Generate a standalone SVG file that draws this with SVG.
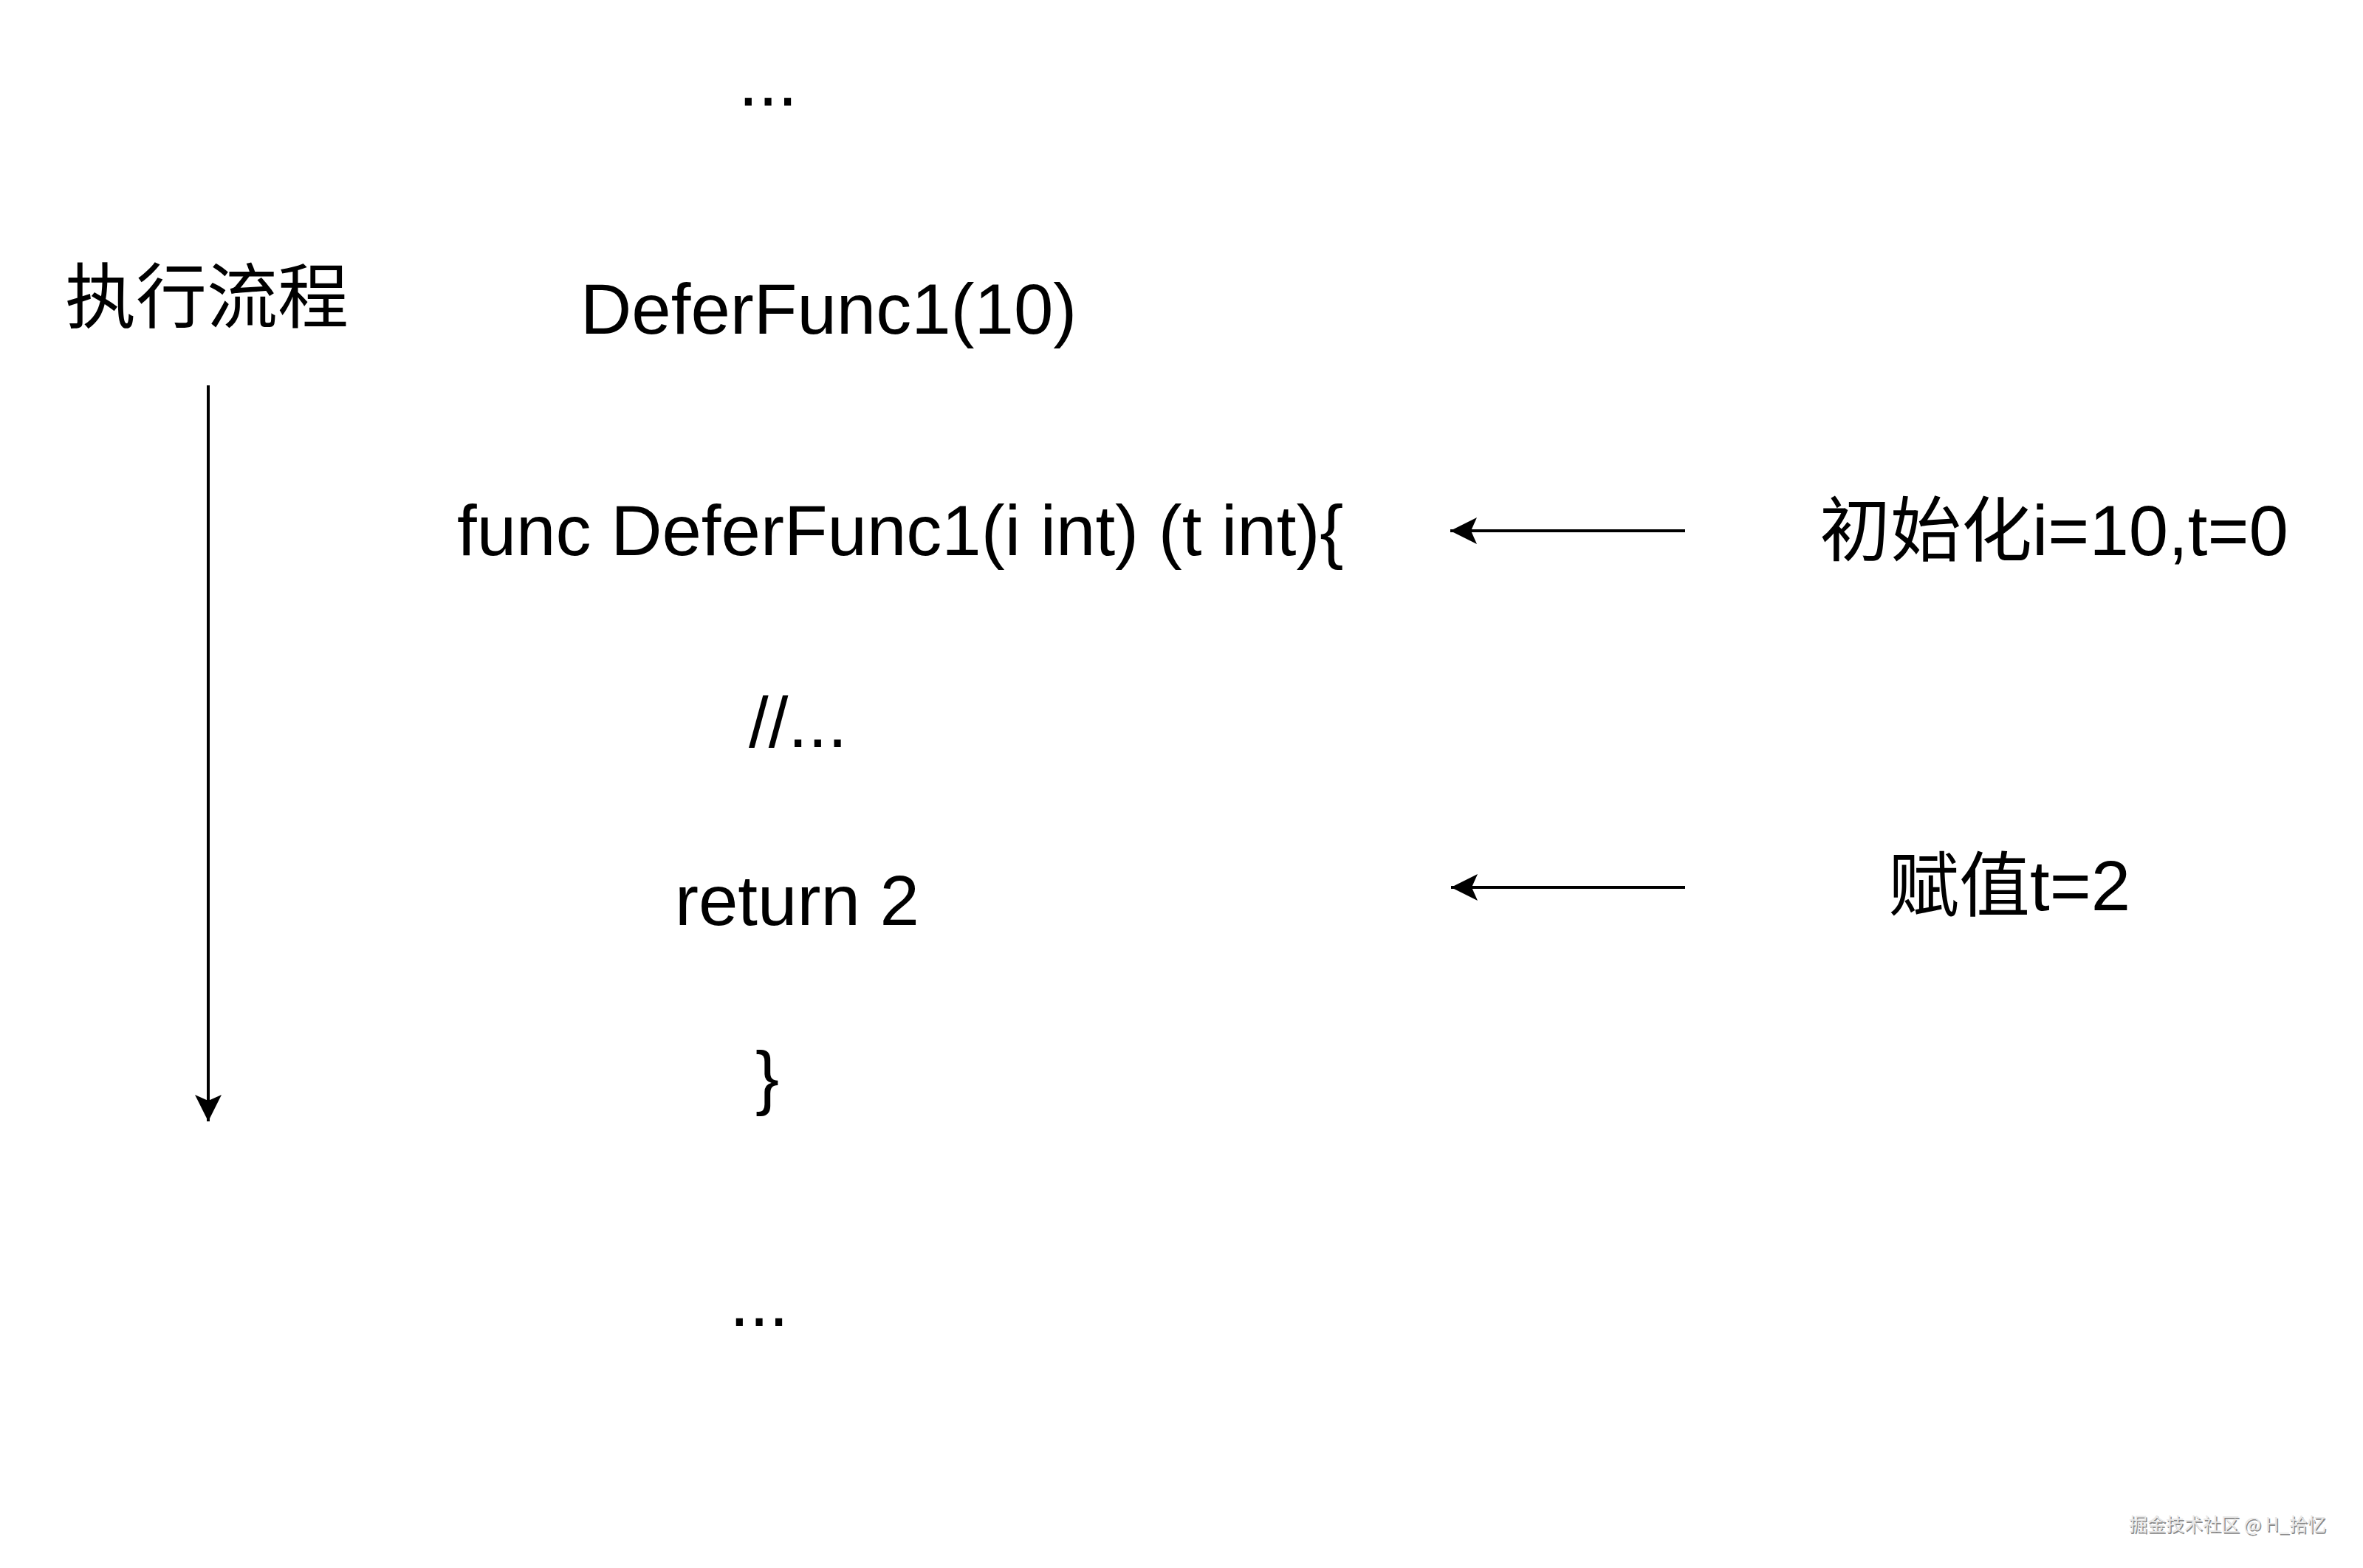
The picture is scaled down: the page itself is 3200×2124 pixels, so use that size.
<svg xmlns="http://www.w3.org/2000/svg" width="3200" height="2124" viewBox="0 0 3200 2124">
<style>
.t{font-family:"Liberation Sans","Noto Sans CJK SC",Arial,sans-serif;font-size:96px;fill:#000}
.cjk{font-family:"Noto Sans CJK SC","Liberation Sans",sans-serif;font-size:96px;fill:#000}
.edge{stroke:#000;stroke-width:4;fill:none}
.wm{font-family:"Noto Sans CJK SC","Liberation Sans",sans-serif;font-size:25px}
</style>
<defs>
<marker id="arr" viewBox="0 0 40 40" refX="36" refY="20" markerWidth="40" markerHeight="40" markerUnits="userSpaceOnUse" orient="auto">
<path d="M36,20 L0,2 L8,20 L0,38 Z" fill="#000"/>
</marker>
</defs>
<rect width="3200" height="2124" fill="#fff"/>
<g id="dots-top"><text class="t" x="1000" y="143">...</text></g>
<g id="label-flow"><text class="cjk" x="88" y="436">执行流程</text></g>
<g id="call"><text class="t" x="786" y="452">DeferFunc1(10)</text></g>
<g id="func-decl"><text class="t" x="619" y="752">func DeferFunc1(i int) (t int){</text></g>
<g id="init-note"><text class="t" x="2464" y="752">初始化i=10,t=0</text></g>
<g id="comment"><text class="t" x="1014" y="1012">//...</text></g>
<g id="return"><text class="t" x="914" y="1253">return 2</text></g>
<g id="assign-note"><text class="t" x="2557" y="1233">赋值t=2</text></g>
<g id="close-brace"><text class="t" x="1023" y="1492">}</text></g>
<g id="dots-bottom"><text class="t" x="988" y="1796">...</text></g>
<g id="connectors">
<line class="edge" x1="282" y1="522" x2="282" y2="1519" marker-end="url(#arr)"/>
<line class="edge" x1="2282" y1="719" x2="1964" y2="719" marker-end="url(#arr)"/>
<line class="edge" x1="2282" y1="1202" x2="1965" y2="1202" marker-end="url(#arr)"/>
</g>
<g id="watermark">
<text class="wm" x="2884.5" y="2075.5" fill="#8a8a8a">掘金技术社区 @ H_拾忆</text>
<text class="wm" x="2883" y="2074" fill="#e8e8e8">掘金技术社区 @ H_拾忆</text>
</g>
</svg>
